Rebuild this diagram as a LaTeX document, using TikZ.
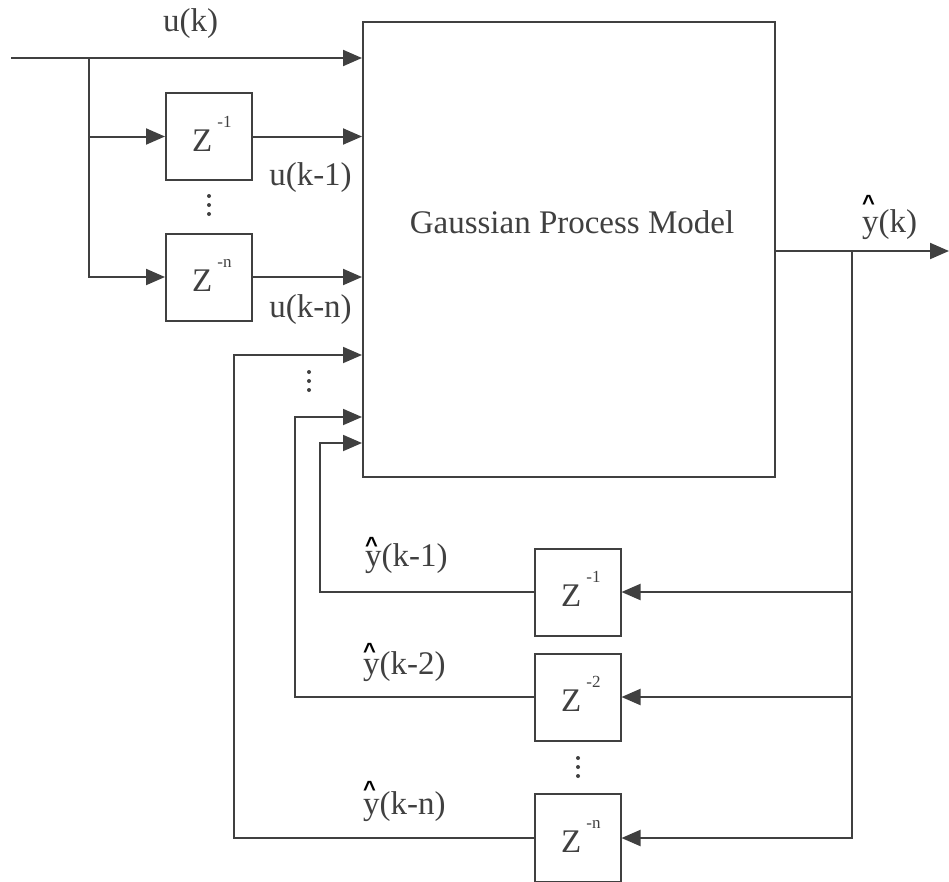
\documentclass[tikz,border=0pt]{standalone}
\usepackage{fontspec}
\setmainfont{Liberation Serif}
\newfontfamily\hatf{Liberation Sans}
\usetikzlibrary{arrows.meta,calc}
\definecolor{ink}{RGB}{64,64,64}
\newcommand{\yh}[1]{\makebox[0pt][l]{\hspace{0pt}\raisebox{#1}{\textcolor{black}{\fontsize{22}{22}\hatf\bfseries\textasciicircum}}}y}
\newcommand{\zt}[1]{Z\hspace{5pt}\raisebox{24pt}{\fontsize{17}{17}\selectfont #1}}
\begin{document}
\begin{tikzpicture}[x=1pt,y=-1pt,
  ln/.style={draw=ink,line width=2pt},
  arr/.style={ln,-{Triangle[length=19pt,width=16pt]}},
  fbk/.style={draw=ink,line width=1.8pt,-{Triangle[length=19pt,width=16pt]}},
  zbox/.style={draw=ink,line width=2pt,minimum width=86pt,minimum height=87pt,inner sep=0pt},
  lbl/.style={text=ink,font=\fontsize{33}{40}\selectfont,inner sep=0pt}]
\useasboundingbox (0,0) rectangle (949,881);
% main block
\node[draw=ink,line width=2pt,minimum width=412pt,minimum height=455pt,inner sep=0pt] (main) at (569,249.5) {};
\node[lbl,anchor=base] (gpm) at (572,233) {Gaussian Process Model};
% delay boxes
\node[zbox] (zu1) at (209,136.5) {};
\node[zbox] (zun) at (209,277) {};
\node[zbox] (zy1) at (577.5,592) {};
\node[zbox] (zy2) at (577.5,697) {};
\node[zbox,minimum height=88pt] (zyn) at (577.5,838) {};
\node[lbl,anchor=base west] (tzu1) at ($(zu1.center)+(-17,14.5)$) {\zt{-1}};
\node[lbl,anchor=base west] (tzun) at ($(zun.center)+(-17,14.5)$) {\zt{-n}};
\node[lbl,anchor=base west] (tzy1) at ($(zy1.center)+(-16.5,14)$) {\zt{-1}};
\node[lbl,anchor=base west] (tzy2) at ($(zy2.center)+(-16.5,14)$) {\zt{-2}};
\node[lbl,anchor=base west] (tzyn) at ($(zyn.center)+(-16.5,14)$) {\zt{-n}};
% input side
\coordinate (in) at (11,58);
\coordinate (br) at (89,58);
\draw[arr] (in) -- (in -| main.west);
\draw[arr] (br) |- (zu1.west);
\draw[arr] (br) |- (zun.west);
\draw[arr] (zu1.east) -- (zu1.east -| main.west);
\draw[arr] (zun.east) -- (zun.east -| main.west);
% output side
\coordinate (out) at (949,251);
\coordinate (sp) at (852,251);
\draw[arr] (main.east |- out) -- (out);
\draw[ln] (sp) -- (sp |- zyn.east);
\draw[arr] (sp) |- (zy1.east);
\draw[arr] (sp) |- (zy2.east);
\draw[arr] (sp) |- (zyn.east);
% feedback
\coordinate (f1) at (320,443);
\coordinate (f2) at (295,417);
\coordinate (fn) at (234,355);
\draw[fbk] (zy1.west) -| (f1) -- (f1 -| main.west);
\draw[fbk] (zy2.west) -| (f2) -- (f2 -| main.west);
\draw[fbk] (zyn.west) -| (fn) -- (fn -| main.west);
% dots
\foreach \yy in {196,205,214} \fill[ink] (209,\yy) circle (2pt);
\foreach \yy in {372,381,390} \fill[ink] (309,\yy) circle (2pt);
\foreach \yy in {758,767,776} \fill[ink] (578,\yy) circle (2pt);
% labels
\node[lbl] (luk) at (190.5,24) {u(k)};
\node[lbl] (luk1) at (310.5,178) {u(k-1)};
\node[lbl] (lukn) at (310.5,310) {u(k-n)};
\node[lbl,anchor=base west] (ly) at (862,232.5) {\yh{22pt}(k)};
\node[lbl,anchor=base west] (ly1) at (365,566) {\yh{13.7pt}(k-1)};
\node[lbl,anchor=base west] (ly2) at (363,674) {\yh{15.7pt}(k-2)};
\node[lbl,anchor=base west] (lyn) at (363,814.5) {\yh{18.2pt}(k-n)};
\end{tikzpicture}
\end{document}
